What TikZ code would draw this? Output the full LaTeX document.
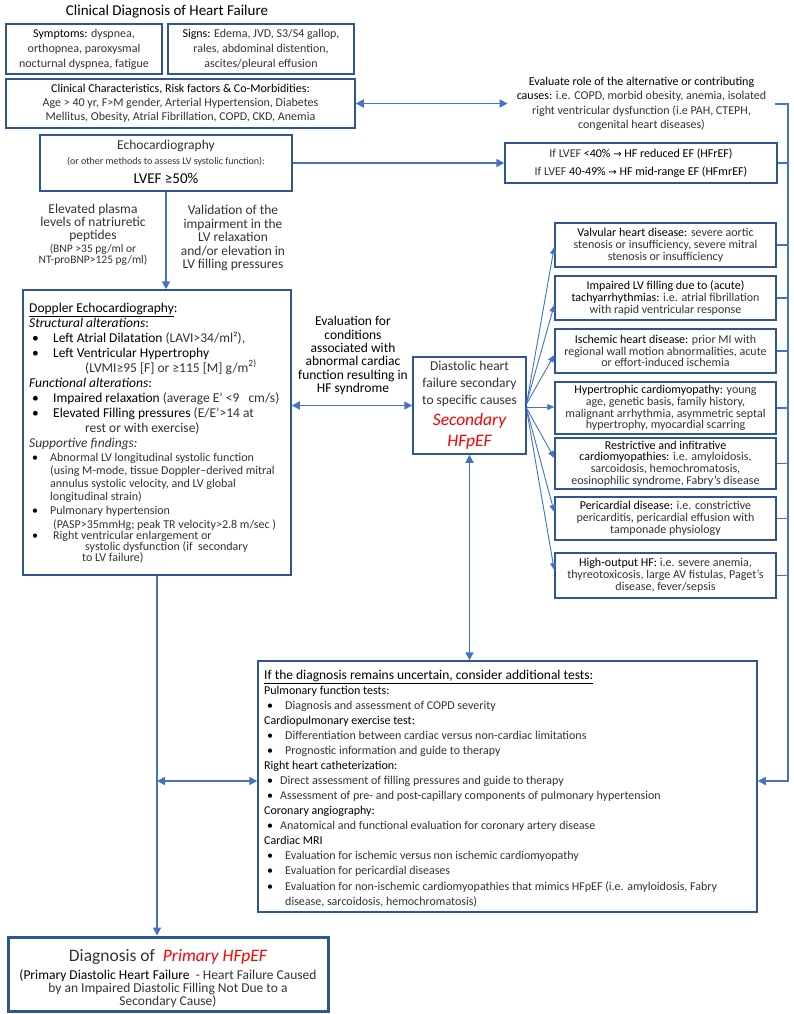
\documentclass[tikz,border=0pt]{standalone}
\usepackage{fontspec}
\setmainfont{Carlito}
\newfontfamily\arrowfont{DejaVu Sans}
\usetikzlibrary{arrows.meta}
\definecolor{lineblue}{RGB}{68,114,196}
\definecolor{boxblue}{RGB}{47,85,151}
\definecolor{lgt}{gray}{0.2}
\definecolor{hfred}{RGB}{255,0,0}
\newcommand{\lgtx}[1]{{\color{lgt}#1}}
\newcommand{\fsz}[2]{\fontsize{#1}{#2}\selectfont}
\lineskiplimit=-100pt
\tikzset{
  box/.style={draw=boxblue, line width=1.5pt, rectangle, inner sep=0pt, align=center, text=black},
  conn/.style={draw=lineblue, line width=1.7pt},
  fanline/.style={draw=lineblue, line width=0.9pt, -{Triangle[length=7pt,width=6pt]}},
  arr/.style={-{Triangle[length=8pt,width=8pt]}},
  darr/.style={{Triangle[length=8pt,width=8pt]}-{Triangle[length=8pt,width=8pt]}},
  txt/.style={inner sep=0pt, align=center},
  ln/.style={inner sep=0pt, anchor=base west},
}
\begin{document}
\begin{tikzpicture}[x=1pt,y=-1pt]
\useasboundingbox (0,0) rectangle (793,1014);
\fill[white] (0,0) rectangle (793,1014);

% title
\node[txt, font=\fsz{15}{18}] (title) at (167,12) {Clinical Diagnosis of Heart Failure};

% top boxes
\node[box, minimum width=156pt, minimum height=50pt, font=\fsz{12}{15}] (sym) at (84,49)
  {Symptoms: \lgtx{dyspnea,}\\\lgtx{orthopnea, paroxysmal}\\\lgtx{nocturnal dyspnea, fatigue}};
\node[box, minimum width=186pt, minimum height=50pt, font=\fsz{12}{15}] (sig) at (261,49)
  {Signs: \lgtx{Edema, JVD, S3/S4 gallop,}\\\lgtx{rales, abdominal distention,}\\\lgtx{ascites/pleural effusion}};
\node[box, minimum width=349pt, minimum height=49pt, font=\fsz{12}{14}] (clin) at (180.5,103.5)
  {Clinical Characteristics, Risk factors \& Co-Morbidities:\\\lgtx{Age > 40 yr, F>M gender, Arterial Hypertension, Diabetes}\\\lgtx{Mellitus, Obesity, Atrial Fibrillation, COPD, CKD, Anemia}};

% evaluate text
\node[txt, inner xsep=9pt, font=\fsz{12}{14.5}] (ev) at (641.5,104)
  {Evaluate role of the alternative or contributing\\causes: \lgtx{i.e. COPD, morbid obesity, anemia, isolated}\\\lgtx{right ventricular dysfunction (i.e PAH, CTEPH,}\\\lgtx{congenital heart diseases)}};

% echo
\node[box, minimum width=252pt, minimum height=56pt] (echo) at (166,163) {};
\node[txt, font=\fsz{13.5}{14}] (echo1) at (166,146) {\lgtx{Echocardiography}};
\node[txt, font=\fsz{10}{12}] (echo2) at (166,162) {\lgtx{(or other methods to assess LV systolic function):}};
\node[txt, font=\fsz{15}{16}] (echo3) at (166,178) {LVEF ≥50\%};

% LVEF box
\node[box, minimum width=272pt, minimum height=40pt, font=\fsz{12}{18.5}] (lvef) at (641,163)
  {\lgtx{If LVEF} <40\% {\arrowfont\fsz{10}{12}→} HF reduced EF (HFrEF)\\\lgtx{If LVEF} 40-49\% {\arrowfont\fsz{10}{12}→} HF mid-range EF (HFmrEF)};

% labels under echo
\node[txt, font=\fsz{13.5}{13}] (bnp1) at (93,223) {\lgtx{Elevated plasma}\\\lgtx{levels of natriuretic}\\\lgtx{peptides}};
\node[txt, font=\fsz{11.5}{11.5}] (bnp2) at (93,255) {\lgtx{(BNP >35 pg/ml or}\\\lgtx{NT-proBNP>125 pg/ml)}};
\node[txt, font=\fsz{13.5}{13.5}] (val) at (233,238) {\lgtx{Validation of the}\\\lgtx{impairment in the}\\\lgtx{LV relaxation}\\\lgtx{and/or elevation in}\\\lgtx{LV filling pressures}};

% Doppler box
\node[box, minimum width=268pt, minimum height=285pt] (dop) at (157,432.5) {};
\node[ln, font=\fsz{13.5}{14}] (d1) at (29,312) {\underline{Doppler Echocardiography}:};
\node[ln, font=\fsz{13.5}{14}] (d2) at (29,327) {\textit{Structural alterations}:};
\node[ln, font=\fsz{13.5}{14}] (d3) at (32,342) {\makebox[21pt][l]{•}Left Atrial Dilatation \lgtx{(LAVI>34/ml²),}};
\node[ln, font=\fsz{13.5}{14}] (d4) at (32,357) {\makebox[21pt][l]{•}Left Ventricular Hypertrophy};
\node[ln, font=\fsz{13.5}{14}] (d5) at (85,372) {\lgtx{(LVMI≥95 [F] or ≥115 [M] g/m\textsuperscript{2)}}};
\node[ln, font=\fsz{13.5}{14}] (d6) at (29,387) {\textit{Functional alterations}:};
\node[ln, font=\fsz{13.5}{14}] (d7) at (32,402) {\makebox[21pt][l]{•}Impaired relaxation \lgtx{(average E’ <9\ \ \ cm/s)}};
\node[ln, font=\fsz{13.5}{14}] (d8) at (32,417) {\makebox[21pt][l]{•}Elevated Filling pressures \lgtx{(E/E’>14 at}};
\node[ln, font=\fsz{13.5}{14}] (d9) at (85,432) {\lgtx{rest or with exercise)}};
\node[ln, font=\fsz{13.5}{14}] (d10) at (29,447) {\lgtx{\textit{Supportive findings:}}};
\node[ln, font=\fsz{12}{13}] (d11) at (32,461.5) {\makebox[18pt][l]{•}\lgtx{Abnormal LV longitudinal systolic function}};
\node[ln, font=\fsz{12}{13}] (d12) at (50,474.5) {\lgtx{(using M-mode, tissue Doppler–derived mitral}};
\node[ln, font=\fsz{12}{13}] (d13) at (50,487) {\lgtx{annulus systolic velocity, and LV global}};
\node[ln, font=\fsz{12}{13}] (d14) at (50,500.5) {\lgtx{longitudinal strain)}};
\node[ln, font=\fsz{12}{13}] (d15) at (32,514.5) {\makebox[18pt][l]{•}\lgtx{Pulmonary hypertension}};
\node[ln, font=\fsz{12}{13}] (d16) at (53,528.5) {\lgtx{(PASP>35mmHg; peak TR velocity>2.8 m/sec )}};
\node[ln, font=\fsz{12}{13}] (d17) at (32,539.5) {\makebox[21pt][l]{•}\lgtx{Right ventricular enlargement or}};
\node[ln, font=\fsz{12}{13}] (d18) at (85,550.5) {\lgtx{systolic dysfunction (if\ \ secondary}};
\node[ln, font=\fsz{12}{13}] (d19) at (82,561.5) {\lgtx{to LV failure)}};

% middle label
\node[txt, font=\fsz{13.5}{13.4}] (mid) at (353,355.5)
  {Evaluation for\\conditions\\associated with\\abnormal cardiac\\function resulting in\\HF syndrome};

% secondary box
\node[box, minimum width=113pt, minimum height=97pt] (sec) at (469.5,405.5) {};
\node[txt, font=\fsz{13.5}{17}] (sec1) at (469.5,384) {\lgtx{Diastolic heart}\\\lgtx{failure secondary}\\\lgtx{to specific causes}};
\node[txt, font=\fsz{17.5}{21}, text=hfred] (sec2) at (469.5,431.5) {\itshape Secondary\\\itshape HFpEF};

% right boxes
\node[box, minimum width=221pt, minimum height=44pt, font=\fsz{12}{11.8}] (valv) at (665.5,245)
  {Valvular heart disease: \lgtx{severe aortic}\\\lgtx{stenosis or insufficiency, severe mitral}\\\lgtx{stenosis or insufficiency}};
\node[box, minimum width=221pt, minimum height=44pt, font=\fsz{12}{11.8}] (imp) at (665.5,298)
  {Impaired LV filling due to (acute)\\tachyarrhythmias: \lgtx{i.e. atrial fibrillation}\\\lgtx{with rapid ventricular response}};
\node[box, minimum width=221pt, minimum height=44pt, font=\fsz{12}{11.8}] (isc) at (665.5,351)
  {Ischemic heart disease: \lgtx{prior MI with}\\\lgtx{regional wall motion abnormalities, acute}\\\lgtx{or effort-induced ischemia}};
\node[box, minimum width=221pt, minimum height=52pt, font=\fsz{12}{11.8}] (hyp) at (665.5,408)
  {Hypertrophic cardiomyopathy: \lgtx{young}\\\lgtx{age, genetic basis, family history,}\\\lgtx{malignant arrhythmia, asymmetric septal}\\\lgtx{hypertrophy, myocardial scarring}};
\node[box, minimum width=221pt, minimum height=51pt, font=\fsz{12}{11.8}] (res) at (665.5,463.5)
  {Restrictive and infitrative\\cardiomyopathies: \lgtx{i.e. amyloidosis,}\\\lgtx{sarcoidosis, hemochromatosis,}\\\lgtx{eosinophilic syndrome, Fabry’s disease}};
\node[box, minimum width=221pt, minimum height=43pt, font=\fsz{12}{11.8}] (per) at (665.5,518.5)
  {Pericardial disease: \lgtx{i.e. constrictive}\\\lgtx{pericarditis, pericardial effusion with}\\\lgtx{tamponade physiology}};
\node[box, minimum width=221pt, minimum height=45pt, font=\fsz{12}{11.8}] (high) at (665.5,575.5)
  {High-output HF: \lgtx{i.e. severe anemia,}\\\lgtx{thyreotoxicosis, large AV fistulas, Paget’s}\\\lgtx{disease, fever/sepsis}};

% tests box
\node[box, minimum width=499pt, minimum height=251pt] (tests) at (507.5,786.5) {};
\node[ln, font=\fsz{13.5}{14}] (t1) at (264,679) {\underline{If the diagnosis remains uncertain, consider additional tests:}};
\node[ln, font=\fsz{12}{13}] (t2) at (264,694.1) {Pulmonary function tests:};
\node[ln, font=\fsz{12}{13}] (t3) at (267,709.1) {\makebox[18pt][l]{•}\lgtx{Diagnosis and assessment of COPD severity}};
\node[ln, font=\fsz{12}{13}] (t4) at (264,724.2) {Cardiopulmonary exercise test:};
\node[ln, font=\fsz{12}{13}] (t5) at (267,739.3) {\makebox[18pt][l]{•}\lgtx{Differentiation between cardiac versus non-cardiac limitations}};
\node[ln, font=\fsz{12}{13}] (t6) at (267,754.4) {\makebox[18pt][l]{•}\lgtx{Prognostic information and guide to therapy}};
\node[ln, font=\fsz{12}{13}] (t7) at (264,769.4) {Right heart catheterization:};
\node[ln, font=\fsz{12}{13}] (t8) at (267,784.5) {\makebox[13pt][l]{•}\lgtx{Direct assessment of filling pressures and guide to therapy}};
\node[ln, font=\fsz{12}{13}] (t9) at (267,799.6) {\makebox[13pt][l]{•}\lgtx{Assessment of pre- and post-capillary components of pulmonary hypertension}};
\node[ln, font=\fsz{12}{13}] (t10) at (264,814.6) {Coronary angiography:};
\node[ln, font=\fsz{12}{13}] (t11) at (267,829.7) {\makebox[13pt][l]{•}\lgtx{Anatomical and functional evaluation for coronary artery disease}};
\node[ln, font=\fsz{12}{13}] (t12) at (264,844.8) {Cardiac MRI};
\node[ln, font=\fsz{12}{13}] (t13) at (267,859.8) {\makebox[18pt][l]{•}\lgtx{Evaluation for ischemic versus non ischemic cardiomyopathy}};
\node[ln, font=\fsz{12}{13}] (t14) at (267,874.9) {\makebox[18pt][l]{•}\lgtx{Evaluation for pericardial diseases}};
\node[ln, font=\fsz{12}{13}] (t15) at (267,890) {\makebox[18pt][l]{•}\lgtx{Evaluation for non-ischemic cardiomyopathies that mimics HFpEF (i.e. amyloidosis, Fabry}};
\node[ln, font=\fsz{12}{13}] (t16) at (285,905) {\lgtx{disease, sarcoidosis, hemochromatosis)}};

% final box
\node[box, line width=3pt, minimum width=320pt, minimum height=74pt] (final) at (168,974) {};
\node[txt, font=\fsz{17.5}{18}] (f1) at (168,957) {\lgtx{Diagnosis of}\ \ {\color{hfred}\itshape Primary HFpEF}};
\node[txt, font=\fsz{13.5}{13}] (f2) at (168,989) {(Primary Diastolic Heart Failure\ \ \lgtx{- Heart Failure Caused}\\\lgtx{by an Impaired Diastolic Filling Not Due to a}\\\lgtx{Secondary Cause)}};

% coordinates
\coordinate (bustop) at (788,104);
\coordinate (busbot) at (788,781);
\coordinate (lj) at (157,781);

% connectors
\draw[conn, darr] (clin.east) -- (clin.east -| ev.west);
\draw[conn, arr] (echo.east) -- (lvef.west);
\draw[conn, arr] (echo.south) -- (echo.south |- dop.north);
\draw[conn, darr] (sec.west -| dop.east) -- (sec.west);
\draw[conn, darr] (sec.south) -- (sec.south |- tests.north);
\draw[conn, arr] (dop.south) -- (dop.south |- final.north);
\draw[conn, darr] (lj) -- (lj -| tests.west);
\draw[conn, arr] (ev.east) -- (bustop) -- (busbot) -- (busbot -| tests.east);
\draw[conn] (lvef.east) -- (lvef.east -| bustop);
\foreach \b in {valv,imp,isc,hyp,res,per,high}
  \draw[conn, line width=1.4pt] (\b.east) -- (\b.east -| bustop);

% fan
\draw[fanline] ([yshift=3pt]sec.east) -- ([yshift=-2pt]valv.west);
\draw[fanline] ([yshift=3pt]sec.east) -- ([yshift=-7pt]imp.west);
\draw[fanline] ([yshift=2pt]sec.east) -- ([yshift=-4pt]isc.west);
\draw[fanline] ([yshift=-1.5pt]sec.east) -- ([yshift=1pt]hyp.west);
\draw[fanline] ([yshift=-3pt]sec.east) -- ([yshift=5.5pt]res.west);
\draw[fanline] ([yshift=-4pt]sec.east) -- ([yshift=6.5pt]per.west);
\draw[fanline] ([yshift=-5pt]sec.east) -- ([yshift=5.5pt]high.west);
\end{tikzpicture}
\end{document}
